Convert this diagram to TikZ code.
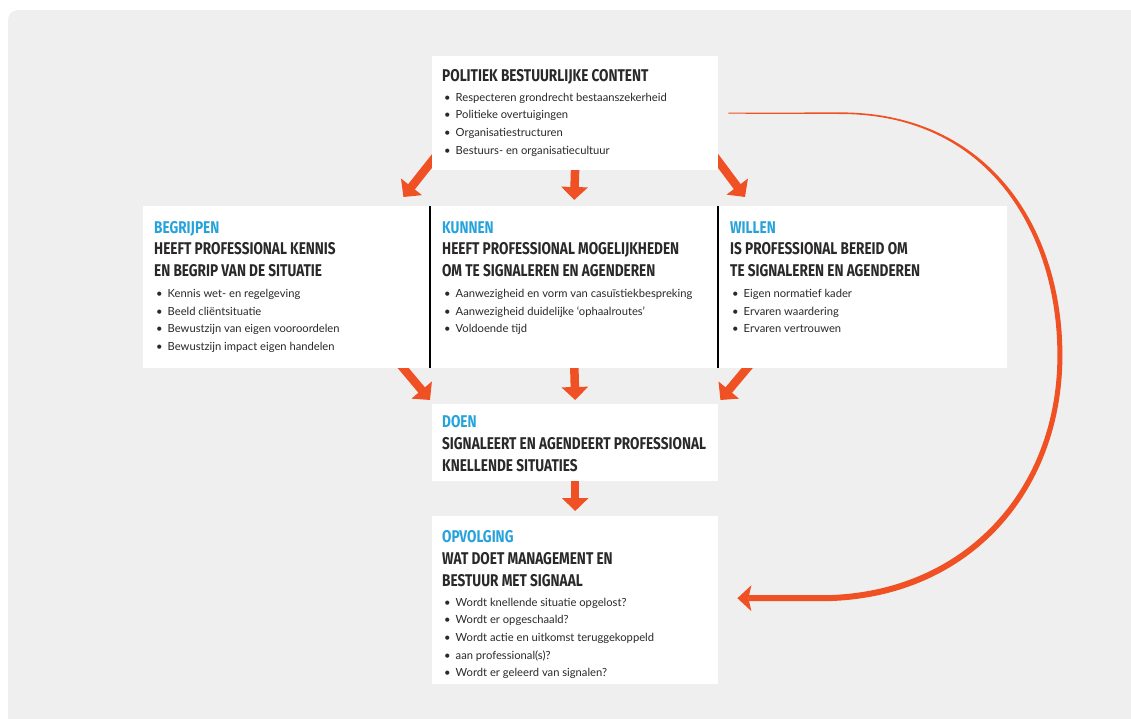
\documentclass[tikz,border=0pt]{standalone}
\usepackage{fontspec}
\setmainfont{Lato}
\newfontfamily\kopfont{Fira Sans}[FakeStretch=0.8]
\usetikzlibrary{arrows.meta}
\definecolor{oranje}{HTML}{EF5124}
\definecolor{blauw}{HTML}{27A3DC}
\definecolor{grijs}{HTML}{EFEFEF}
\definecolor{tekst}{HTML}{2A2829}
\pgfdeclarelayer{achter}
\pgfsetlayers{achter,main}
\newcommand\bol{\makebox[11.5pt][l]{\textbullet}}

\begin{document}
\begin{tikzpicture}[x=1pt,y=-1pt,
    vak/.style={fill=white,inner sep=0,anchor=north west},
    kleurkop/.style={anchor=base west,inner sep=0,text=blauw,font=\kopfont\bfseries\fontsize{17}{22}\selectfont},
    kop/.style={anchor=base west,inner sep=0,align=left,text=tekst,font=\kopfont\bfseries\fontsize{17}{22}\selectfont},
    lijst/.style={anchor=base west,inner sep=0,align=left,text=tekst,font=\fontsize{11.2}{17.7}\selectfont},
    pijl/.style={oranje,line width=8.5pt,-{Triangle[length=13pt,width=26pt]}},
    scheid/.style={line width=2.5pt,black}]
  \useasboundingbox (0,0) rectangle (1131,718);

  \node[vak,minimum width=286pt,minimum height=114pt] (polbox) at (432,56) {};
  \node[vak,minimum width=287pt,minimum height=162pt] (begbox) at (143,206) {};
  \node[vak,minimum width=288pt,minimum height=162pt] (kunbox) at (430,206) {};
  \node[vak,minimum width=289pt,minimum height=162pt] (wilbox) at (718,206) {};
  \node[vak,minimum width=286pt,minimum height=77pt] (doebox) at (432,404) {};
  \node[vak,minimum width=286pt,minimum height=168pt] (opvbox) at (432,516) {};
  \draw[scheid] (kunbox.north west) -- (kunbox.south west);
  \draw[scheid] (wilbox.north west) -- (wilbox.south west);

  \path (polbox.north west) +(10,25) node[kop] (polkop) {POLITIEK BESTUURLIJKE CONTENT};
  \path (polbox.north west) +(12,98.1) node[lijst] (pollijst)
    {\bol Respecteren grondrecht bestaanszekerheid\\\bol Politieke overtuigingen\\
     \bol Organisatiestructuren\\\bol Bestuurs- en organisatiecultuur};

  \path (begbox.north west) +(11,27) node[kleurkop] (begnaam) {BEGRIJPEN};
  \path (begbox.north west) +(11,70) node[kop] (begkop) {HEEFT PROFESSIONAL KENNIS\\EN BEGRIP VAN DE SITUATIE};
  \path (begbox.north west) +(13,144.6) node[lijst] (beglijst)
    {\bol Kennis wet- en regelgeving\\\bol Beeld cliëntsituatie\\
     \bol Bewustzijn van eigen vooroordelen\\\bol Bewustzijn impact eigen handelen};

  \path (kunbox.north west) +(12,27) node[kleurkop] (kunnaam) {KUNNEN};
  \path (kunbox.north west) +(12,70) node[kop] (kunkop) {HEEFT PROFESSIONAL MOGELIJKHEDEN\\OM TE SIGNALEREN EN AGENDEREN};
  \path (kunbox.north west) +(14,126.9) node[lijst] (kunlijst)
    {\bol Aanwezigheid en vorm van casuïstiekbespreking\\\bol Aanwezigheid duidelijke ‘ophaalroutes’\\
     \bol Voldoende tijd};

  \path (wilbox.north west) +(12,27) node[kleurkop] (wilnaam) {WILLEN};
  \path (wilbox.north west) +(12,70) node[kop] (wilkop) {IS PROFESSIONAL BEREID OM\\TE SIGNALEREN EN AGENDEREN};
  \path (wilbox.north west) +(14,126.9) node[lijst] (willijst)
    {\bol Eigen normatief kader\\\bol Ervaren waardering\\\bol Ervaren vertrouwen};

  \path (doebox.north west) +(10,23) node[kleurkop] (doenaam) {DOEN};
  \path (doebox.north west) +(10,67) node[kop] (doekop) {SIGNALEERT EN AGENDEERT PROFESSIONAL\\KNELLENDE SITUATIES};

  \path (opvbox.north west) +(10,26) node[kleurkop] (opvnaam) {OPVOLGING};
  \path (opvbox.north west) +(10,70) node[kop] (opvkop) {WAT DOET MANAGEMENT EN\\BESTUUR MET SIGNAAL};
  \path (opvbox.north west) +(12,160.8) node[lijst] (opvlijst)
    {\bol Wordt knellende situatie opgelost?\\\bol Wordt er opgeschaald?\\
     \bol Wordt actie en uitkomst teruggekoppeld\\\bol aan professional(s)?\\
     \bol Wordt er geleerd van signalen?};

  \path (polbox.south west) +(6,-17) coordinate (polbeg);
  \path (begbox.north east) +(-27,-9) coordinate (begtop);
  \path (polbox.south) +(0,-5) coordinate (polkun);
  \path (kunbox.north) +(0,-6) coordinate (kuntop);
  \path (polbox.south east) +(-6,-17) coordinate (polwil);
  \path (wilbox.north west) +(27,-9) coordinate (wiltop);
  \path (begbox.south east) +(-42,-18) coordinate (begdoe);
  \path (doebox.north west) +(-2,-4) coordinate (doelinks);
  \path (kunbox.south) +(0,-5) coordinate (kundoe);
  \path (doebox.north) +(0,-4) coordinate (doemidden);
  \path (wilbox.south west) +(44,-18) coordinate (wildoe);
  \path (doebox.north east) +(2,-4) coordinate (doerechts);
  \path (doebox.south) +(0,-5) coordinate (doeopv);
  \path (opvbox.north) +(0,-5) coordinate (opvtop);
  \path (polbox.east) +(10,0) coordinate (terugstart);
  \path (opvbox.east) +(19,-2) coordinate (terugpunt);

  \begin{pgfonlayer}{achter}
    \clip (0,0) rectangle (1131,718);
    \fill[grijs,rounded corners=10] (8,10) rectangle (1150,740);
    \draw[pijl] (polbeg) -- (begtop);
    \draw[pijl] (polkun) -- (kuntop);
    \draw[pijl] (polwil) -- (wiltop);
    \draw[pijl] (begdoe) -- (doelinks);
    \draw[pijl] (kundoe) -- (doemidden);
    \draw[pijl] (wildoe) -- (doerechts);
    \draw[pijl] (doeopv) -- (opvtop);
    \begin{scope}[shift={(terugstart)}]
      \fill[oranje] (0,-0.5) -- (112,-0.8) .. controls (262,-0.8) and (334,117) .. (334,242)
        .. controls (334,382) and (237,488) .. (92,488) -- (20,488) -- (20,482) -- (92,482)
        .. controls (232,482) and (329,380) .. (329,242) .. controls (329,119) and (260,0.8) .. (112,0.8)
        -- (0,0.5) -- cycle;
    \end{scope}
    \fill[oranje] (terugpunt) -- ++(14,-13) -- ++(-3,13) -- ++(3,13) -- cycle;
  \end{pgfonlayer}
\end{tikzpicture}
\end{document}
